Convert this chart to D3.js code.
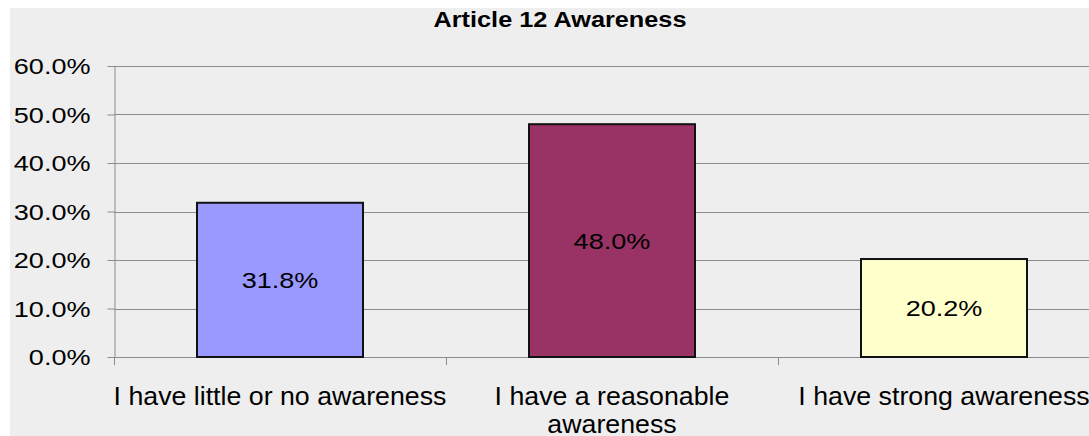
<!DOCTYPE html>
<html>
<head>
<meta charset="utf-8">
<script src="https://cdn.jsdelivr.net/npm/d3@7"></script>
<style>
  body { margin: 0; background: #fff; }
  text { font-family: "Liberation Sans", Arial, sans-serif; fill: #000; }
</style>
</head>
<body>
<div id="chart"></div>
<script>
var categories = ["I have little or no awareness", "I have a reasonable awareness", "I have strong awareness"];
var values = [0.318, 0.480, 0.202];
var barColors = ["#9999FF", "#993366", "#FFFFCC"];
var yTicks = [0, 0.1, 0.2, 0.3, 0.4, 0.5, 0.6];
var title = "Article 12 Awareness";

function init(){
    var w = 1089;
    var h = 436;
    var left = 114, right = 1110, top = 66, bottom = 357;

    var svg = d3.select("#chart")
                .append("svg")
                .attr("width", w)
                .attr("height", h);

    // grey chart area (white strip top and left like the original)
    svg.append("rect")
        .attr("x", 10).attr("y", 8)
        .attr("width", w - 10).attr("height", h - 8)
        .attr("fill", "#eeeeee");

    var x = d3.scaleBand()
                .domain(categories)
                .range([left, right])
                .paddingInner(0.5)
                .paddingOuter(0.25);

    var y = d3.scaleLinear()
                .domain([0, 0.6])
                .range([bottom, top]);

    // stretch text horizontally, keeping its anchor point
    function stretch(sel, k) {
        sel.each(function() {
            var t = d3.select(this);
            var x0 = +t.attr("x") || 0;
            t.attr("x", x0 / k).attr("transform", "scale(" + k + ",1)");
            t.selectAll("tspan").attr("x", x0 / k);
        });
    }

    // gridlines
    svg.append("g")
        .selectAll("line")
        .data(yTicks)
        .enter()
        .append("line")
        .attr("x1", left).attr("x2", w)
        .attr("y1", function(d) { return Math.round(y(d)) + 0.5; })
        .attr("y2", function(d) { return Math.round(y(d)) + 0.5; })
        .attr("stroke", "#8c8c8c")
        .attr("stroke-width", 1);

    // y axis
    var yAxis = d3.axisLeft(y)
                .tickValues(yTicks)
                .tickFormat(d3.format(".1%"))
                .tickSizeInner(7)
                .tickSizeOuter(0)
                .tickPadding(17);

    var gy = svg.append("g")
        .attr("transform", "translate(" + (left + 0.5) + ",0)")
        .call(yAxis);
    gy.select(".domain").attr("stroke", "#8c8c8c");
    gy.selectAll(".tick line").attr("stroke", "#8c8c8c");
    gy.selectAll(".tick text")
        .attr("font-size", 22)
        .attr("font-family", "Liberation Sans, Arial, sans-serif")
        .attr("fill", "#000")
        .attr("dy", "0.36em")
        .call(stretch, 1.23);

    // category boundary ticks on x axis
    var bounds = categories.map(function(d) { return x(d) - x.step() * x.paddingOuter(); });
    bounds.push(right);
    svg.append("g")
        .selectAll("line")
        .data(bounds)
        .enter()
        .append("line")
        .attr("x1", function(d) { return Math.round(d) + 0.5; })
        .attr("x2", function(d) { return Math.round(d) + 0.5; })
        .attr("y1", bottom)
        .attr("y2", bottom + 8)
        .attr("stroke", "#8c8c8c");

    // bars
    svg.selectAll("rect.bar")
        .data(values)
        .enter()
        .append("rect")
        .attr("class", "bar")
        .attr("x", function(d, i) { return x(categories[i]); })
        .attr("y", function(d) { return y(d); })
        .attr("width", x.bandwidth())
        .attr("height", function(d) { return y(0) - y(d); })
        .attr("fill", function(d, i) { return barColors[i]; })
        .attr("stroke", "#111")
        .attr("stroke-width", 2);

    // value labels in the middle of each bar
    svg.selectAll("text.val")
        .data(values)
        .enter()
        .append("text")
        .attr("class", "val")
        .attr("x", function(d, i) { return x(categories[i]) + x.bandwidth() / 2; })
        .attr("y", function(d) { return (y(d) + y(0)) / 2; })
        .attr("dy", "0.36em")
        .attr("text-anchor", "middle")
        .attr("font-size", 22)
        .text(function(d) { return d3.format(".1%")(d); })
        .call(stretch, 1.23);

    // category labels, wrapped when too long
    var k = 1.07;
    var maxW = 345;
    svg.selectAll("text.cat")
        .data(categories)
        .enter()
        .append("text")
        .attr("class", "cat")
        .attr("x", function(d) { return x(d) + x.bandwidth() / 2; })
        .attr("y", 405)
        .attr("text-anchor", "middle")
        .attr("font-size", 25)
        .each(function(d) {
            var t = d3.select(this);
            var cx = +t.attr("x");
            var words = d.split(" ");
            var line = [];
            var tspan = t.append("tspan").attr("x", cx).attr("dy", 0);
            words.forEach(function(word) {
                line.push(word);
                tspan.text(line.join(" "));
                if (tspan.node().getComputedTextLength() * k > maxW && line.length > 1) {
                    line.pop();
                    tspan.text(line.join(" "));
                    line = [word];
                    tspan = t.append("tspan").attr("x", cx).attr("dy", 28).text(word);
                }
            });
        })
        .call(stretch, k);

    // title
    svg.append("text")
        .attr("x", 560)
        .attr("y", 27)
        .attr("text-anchor", "middle")
        .attr("font-size", 22)
        .attr("font-weight", "bold")
        .text(title)
        .call(stretch, 1.15);
}
window.onload = init;
</script>
</body>
</html>
